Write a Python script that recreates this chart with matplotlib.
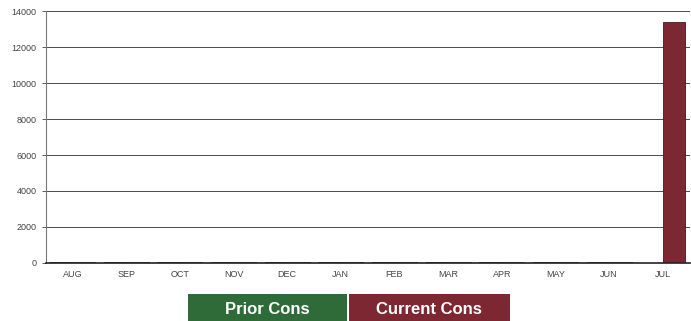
import numpy as np
from matplotlib import pyplot as plt
from matplotlib.patches import Rectangle

plt.rcParams['font.family'] = ['Liberation Sans', 'DejaVu Sans']

months = ['AUG', 'SEP', 'OCT', 'NOV', 'DEC', 'JAN', 'FEB', 'MAR', 'APR', 'MAY', 'JUN', 'JUL']
prior_cons = [40, 50, 60, 60, 40, 30, 30, 30, 30, 30, 30, 0]
current_cons = [30, 40, 50, 40, 30, 30, 30, 30, 30, 30, 30, 13400]
yticks = [0, 2000, 4000, 6000, 8000, 10000, 12000, 14000]

green = '#2f6b38'
maroon = '#7d2733'

fig = plt.figure(figsize=(6.91, 3.21), dpi=100)
ax = fig.add_axes([0.066, 0.181, 0.932, 0.784])

x = np.arange(len(months))
w = 0.42
ax.bar(x - w / 2, prior_cons, width=w, color=green, edgecolor='#1d3d22', linewidth=0.6)
ax.bar(x + w / 2, current_cons, width=w, color=maroon, edgecolor='#4a141b', linewidth=0.6)

ax.set_xlim(-0.5, len(months) - 0.5)
ax.set_ylim(0, 14000)
ax.set_yticks(yticks)
ax.set_yticklabels([str(v) for v in yticks])
ax.set_xticks(x)
ax.set_xticklabels(months)
ax.tick_params(axis='both', labelsize=6.5, colors='#444444', length=3, width=0.6)
ax.tick_params(axis='x', length=0, pad=5)
ax.yaxis.grid(True, color='#4a4a4a', linewidth=0.7)
ax.set_axisbelow(True)
for s in ['top', 'right']:
    ax.spines[s].set_visible(False)
ax.spines['left'].set_color('#777777')
ax.spines['left'].set_linewidth(0.8)
ax.spines['bottom'].set_color('#222222')
ax.spines['bottom'].set_linewidth(1.2)

# legend boxes
fig.patches.append(Rectangle((188 / 691, 0), 159 / 691, 27 / 321, transform=fig.transFigure,
                             facecolor=green, edgecolor='none'))
fig.patches.append(Rectangle((349 / 691, 0), 161 / 691, 27 / 321, transform=fig.transFigure,
                             facecolor=maroon, edgecolor='none'))
fig.text(267 / 691, 12 / 321, 'Prior Cons', color='white', fontsize=12, fontweight='bold',
         ha='center', va='center')
fig.text(429 / 691, 12 / 321, 'Current Cons', color='white', fontsize=12, fontweight='bold',
         ha='center', va='center')

fig.savefig('out.png', dpi=100)
